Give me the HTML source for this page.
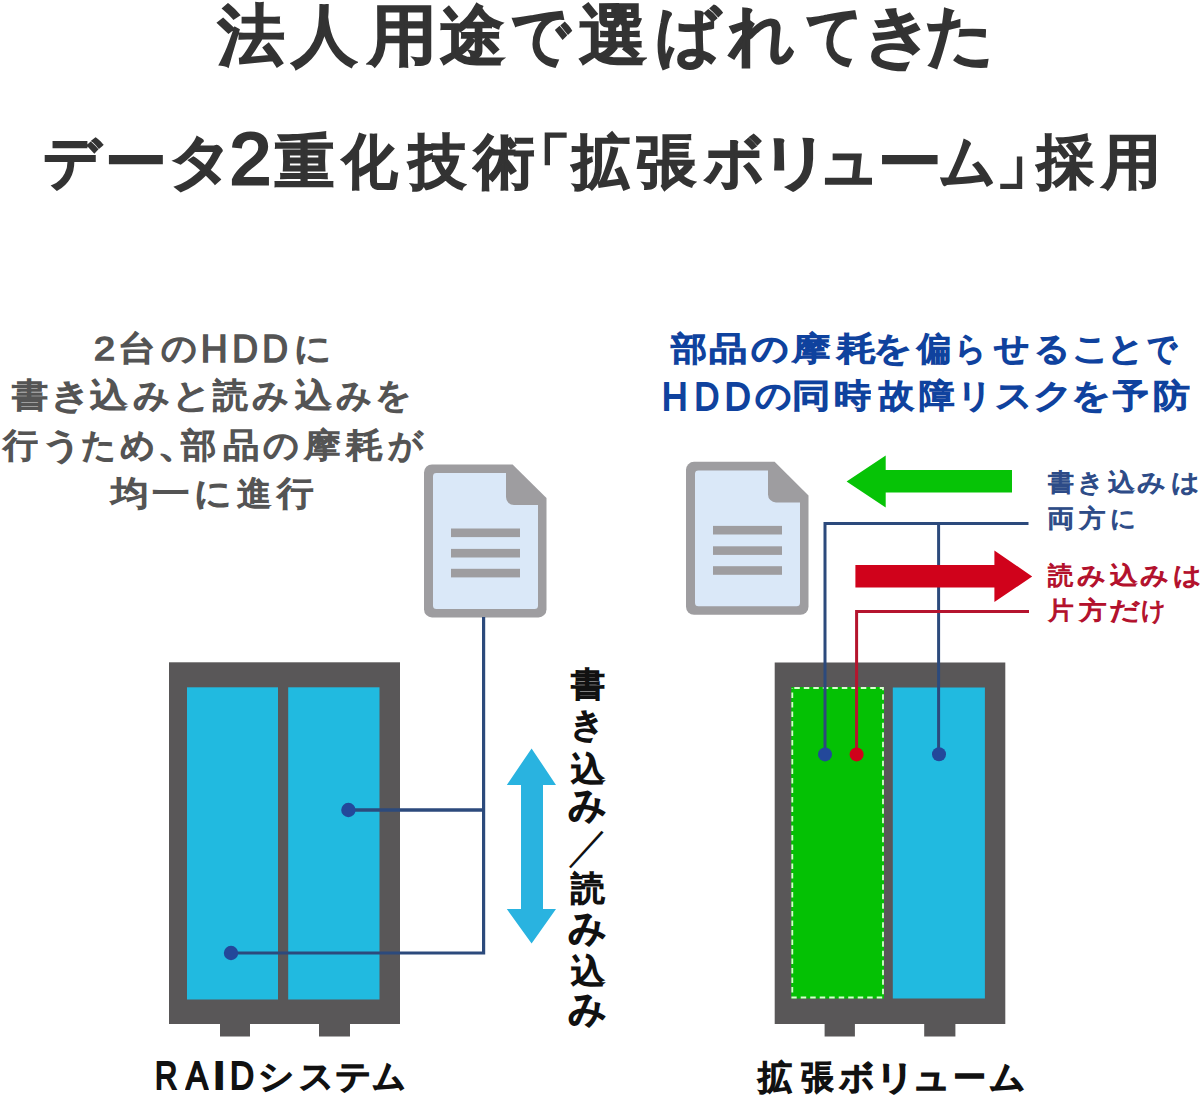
<!DOCTYPE html>
<html><head><meta charset="utf-8">
<style>
html,body{margin:0;padding:0;background:#fff;}
body{width:1200px;height:1097px;position:relative;overflow:hidden;font-family:"Liberation Sans",sans-serif;}
.t{position:absolute;white-space:nowrap;font-weight:normal;line-height:1;}
svg{position:absolute;left:0;top:0;}
</style></head><body>
<svg width="1200" height="1097" viewBox="0 0 1200 1097">
<defs>
<g id="doc">
<path d="M8,0 H88.6 L122.5,33.6 V145 a8,8 0 0 1 -8,8 H8 a8,8 0 0 1 -8,-8 V8 a8,8 0 0 1 8,-8 Z" fill="#9e9da0"/>
<path d="M12.4,8.6 H82 V32.6 a8,8 0 0 0 8,8 H114 V141 a3.5,3.5 0 0 1 -3.5,3.5 H12.5 a3.5,3.5 0 0 1 -3.5,-3.5 V12 a3.4,3.4 0 0 1 3.4,-3.4 Z" fill="#dae8f8"/>
<rect x="27" y="64.1" width="69" height="8.6" fill="#9e9da0"/>
<rect x="27" y="84.5" width="69" height="8.6" fill="#9e9da0"/>
<rect x="27" y="104.4" width="69" height="8.6" fill="#9e9da0"/>
</g>
</defs>
<use href="#doc" x="424" y="464.4"/>
<use href="#doc" x="686" y="461.8"/>
<rect x="169" y="662.3" width="231" height="361.7" fill="#595758"/>
<rect x="220" y="1023" width="30" height="13.5" fill="#595758"/>
<rect x="319" y="1023" width="31" height="13.5" fill="#595758"/>
<rect x="187" y="687.3" width="91" height="312.2" fill="#21bae0"/>
<rect x="288.2" y="687.3" width="91.3" height="312.2" fill="#21bae0"/>
<polyline points="483.6,617 483.6,953 231,953" fill="none" stroke="#2c4a7c" stroke-width="3.2"/>
<line x1="348" y1="810" x2="483.6" y2="810" stroke="#2c4a7c" stroke-width="3.4"/>
<circle cx="231" cy="953" r="7.2" fill="#23489a"/>
<circle cx="348.4" cy="810" r="7.2" fill="#23489a"/>
<path d="M531.6,748.4 L556,785 H543 V909 H556 L531.6,943.5 L506.8,909 H521 V785 H506.8 Z" fill="#29b3e0"/>
<rect x="774.7" y="662.5" width="230.6" height="361.5" fill="#595758"/>
<rect x="824.6" y="1023" width="30.3" height="13.5" fill="#595758"/>
<rect x="924.2" y="1023" width="31.2" height="13.5" fill="#595758"/>
<rect x="791.3" y="687" width="92.7" height="311.5" fill="#04c104"/>
<rect x="792.3" y="688" width="90.7" height="309.5" fill="none" stroke="#d8ffd0" stroke-width="1.8" stroke-dasharray="5.5 4" stroke-dashoffset="-2"/>
<rect x="892.8" y="687.5" width="92.1" height="311" fill="#21bae0"/>
<polyline points="825,754 825,523.4 1028.5,523.4" fill="none" stroke="#2c4a7c" stroke-width="3"/>
<line x1="938.6" y1="523.4" x2="938.6" y2="754" stroke="#2c4a7c" stroke-width="3"/>
<polyline points="856.6,754 856.6,611.5 1029,611.5" fill="none" stroke="#b5142e" stroke-width="3"/>
<circle cx="825" cy="754.4" r="7" fill="#23489a"/>
<circle cx="856.6" cy="754.4" r="7" fill="#d0021b"/>
<circle cx="939" cy="754.2" r="7" fill="#23489a"/>
<path d="M846.6,481.5 L885.7,455.4 V470.1 H1012 V492.5 H885.7 V507.4 Z" fill="#06c306"/>
<path d="M1032.2,576.5 L994.4,550.4 V565.1 H855.4 V587.5 H994.4 V602 Z" fill="#d0021b"/>
</svg>

<div class="t" id="title1" style="left:0px;top:1.94px;font-size:66.00px;color:#333333;-webkit-text-stroke:3.4px #333333;"><span style="position:absolute;left:218.00px;top:0;transform:scaleX(1.009);transform-origin:32.0px 50%">法</span><span style="position:absolute;left:291.65px;top:0;transform:scaleX(0.990);transform-origin:32.5px 50%">人</span><span style="position:absolute;left:368.50px;top:0;transform:scaleX(1.048);transform-origin:29.0px 50%">用</span><span style="position:absolute;left:439.50px;top:0;transform:scaleX(0.985);transform-origin:33.0px 50%">途</span><span style="position:absolute;left:506.70px;top:0;transform:scaleX(0.882);transform-origin:35.0px 50%">で</span><span style="position:absolute;left:580.00px;top:0;transform:scaleX(1.030);transform-origin:33.0px 50%">選</span><span style="position:absolute;left:654.05px;top:0;transform:scaleX(0.977);transform-origin:36.0px 50%">ば</span><span style="position:absolute;left:727.85px;top:0">れ</span><span style="position:absolute;left:801.15px;top:0;transform:scaleX(0.849);transform-origin:30.5px 50%">て</span><span style="position:absolute;left:863.75px;top:0;transform:scaleX(1.078);transform-origin:31.5px 50%">き</span><span style="position:absolute;left:925.60px;top:0;transform:scaleX(1.034);transform-origin:31.5px 50%">た</span></div>
<div class="t" id="title2" style="left:0px;top:132.85px;font-size:59.00px;color:#333333;-webkit-text-stroke:3.1px #333333;"><span style="position:absolute;left:41.65px;top:0;transform:scaleX(0.956);transform-origin:32.5px 50%">デ</span><span style="position:absolute;left:105.50px;top:0;transform:scaleX(1.047);transform-origin:29.5px 50%">ー</span><span style="position:absolute;left:169.70px;top:0;transform:scaleX(1.087);transform-origin:27.0px 50%">タ</span><span style="position:absolute;left:230.00px;top:0;transform:scaleX(1.017);transform-origin:20.0px 50%"><span style="font-size:1.24em;line-height:0;position:relative;top:2.5px">2</span></span><span style="position:absolute;left:275.15px;top:0;transform:scaleX(1.005);transform-origin:29.0px 50%">重</span><span style="position:absolute;left:340.15px;top:0;transform:scaleX(0.940);transform-origin:29.0px 50%">化</span><span style="position:absolute;left:407.70px;top:0;transform:scaleX(0.968);transform-origin:29.0px 50%">技</span><span style="position:absolute;left:474.50px;top:0;transform:scaleX(1.027);transform-origin:28.0px 50%">術</span><span style="position:absolute;left:511.35px;top:0;transform:scaleX(1.033);transform-origin:44.5px 50%">「</span><span style="position:absolute;left:571.50px;top:0;transform:scaleX(0.984);transform-origin:28.5px 50%">拡</span><span style="position:absolute;left:637.20px;top:0;transform:scaleX(1.017);transform-origin:29.5px 50%">張</span><span style="position:absolute;left:703.50px;top:0;transform:scaleX(1.007);transform-origin:29.0px 50%">ボ</span><span style="position:absolute;left:764.80px;top:0;transform:scaleX(1.212);transform-origin:28.5px 50%">リ</span><span style="position:absolute;left:818.85px;top:0;transform:scaleX(1.038);transform-origin:29.5px 50%">ュ</span><span style="position:absolute;left:879.70px;top:0;transform:scaleX(1.078);transform-origin:29.5px 50%">ー</span><span style="position:absolute;left:937.65px;top:0;transform:scaleX(0.952);transform-origin:29.0px 50%">ム</span><span style="position:absolute;left:996.35px;top:0;transform:scaleX(1.033);transform-origin:14.5px 50%">」</span><span style="position:absolute;left:1035.65px;top:0;transform:scaleX(0.956);transform-origin:28.5px 50%">採</span><span style="position:absolute;left:1102.00px;top:0">用</span></div>
<div class="t" id="l1" style="left:0px;top:331.44px;font-size:34.00px;color:#545454;-webkit-text-stroke:1.6px #545454;"><span style="position:absolute;left:95.10px;top:0;transform:scaleX(1.106);transform-origin:9.5px 50%">2</span><span style="position:absolute;left:119.90px;top:0;transform:scaleX(1.114);transform-origin:17.0px 50%">台</span><span style="position:absolute;left:161.55px;top:0;transform:scaleX(1.041);transform-origin:17.0px 50%">の</span><span style="position:absolute;left:199.95px;top:0;transform:scaleX(0.952);transform-origin:14.5px 50%"><span style="font-size:1.15em;line-height:0;position:relative;top:1.5px">H</span></span><span style="position:absolute;left:230.75px;top:0;transform:scaleX(0.912);transform-origin:15.0px 50%"><span style="font-size:1.15em;line-height:0;position:relative;top:1.5px">D</span></span><span style="position:absolute;left:260.95px;top:0;transform:scaleX(0.912);transform-origin:15.0px 50%"><span style="font-size:1.15em;line-height:0;position:relative;top:1.5px">D</span></span><span style="position:absolute;left:295.40px;top:0;transform:scaleX(1.079);transform-origin:17.0px 50%">に</span></div>
<div class="t" id="l2" style="left:0px;top:378.03px;font-size:34.00px;color:#545454;-webkit-text-stroke:1.6px #545454;"><span style="position:absolute;left:13.30px;top:0;transform:scaleX(1.061);transform-origin:16.5px 50%">書</span><span style="position:absolute;left:53.15px;top:0;transform:scaleX(1.195);transform-origin:16.0px 50%">き</span><span style="position:absolute;left:92.00px;top:0;transform:scaleX(1.115);transform-origin:16.5px 50%">込</span><span style="position:absolute;left:133.95px;top:0;transform:scaleX(1.066);transform-origin:17.0px 50%">み</span><span style="position:absolute;left:174.25px;top:0;transform:scaleX(1.143);transform-origin:16.5px 50%">と</span><span style="position:absolute;left:212.80px;top:0;transform:scaleX(1.029);transform-origin:17.0px 50%">読</span><span style="position:absolute;left:253.45px;top:0;transform:scaleX(1.066);transform-origin:17.0px 50%">み</span><span style="position:absolute;left:295.95px;top:0;transform:scaleX(1.088);transform-origin:16.5px 50%">込</span><span style="position:absolute;left:337.00px;top:0;transform:scaleX(1.038);transform-origin:17.0px 50%">み</span><span style="position:absolute;left:376.25px;top:0;transform:scaleX(1.052);transform-origin:17.5px 50%">を</span></div>
<div class="t" id="l3" style="left:0px;top:427.59px;font-size:34.00px;color:#545454;-webkit-text-stroke:1.6px #545454;"><span style="position:absolute;left:3.10px;top:0;transform:scaleX(1.029);transform-origin:17.0px 50%">行</span><span style="position:absolute;left:43.60px;top:0;transform:scaleX(1.210);transform-origin:15.5px 50%">う</span><span style="position:absolute;left:80.70px;top:0;transform:scaleX(1.020);transform-origin:16.0px 50%">た</span><span style="position:absolute;left:120.05px;top:0;transform:scaleX(1.016);transform-origin:16.5px 50%">め</span><span style="position:absolute;left:158.80px;top:0;transform:scaleX(1.300);transform-origin:7.0px 50%">、</span><span style="position:absolute;left:181.95px;top:0;transform:scaleX(1.039);transform-origin:16.5px 50%">部</span><span style="position:absolute;left:224.15px;top:0;transform:scaleX(1.074);transform-origin:16.5px 50%">品</span><span style="position:absolute;left:264.25px;top:0;transform:scaleX(1.041);transform-origin:17.0px 50%">の</span><span style="position:absolute;left:305.40px;top:0;transform:scaleX(1.073);transform-origin:16.5px 50%">摩</span><span style="position:absolute;left:347.55px;top:0;transform:scaleX(1.103);transform-origin:16.0px 50%">耗</span><span style="position:absolute;left:387.70px;top:0;transform:scaleX(1.011);transform-origin:17.5px 50%">が</span></div>
<div class="t" id="l4" style="left:0px;top:475.57px;font-size:34.00px;color:#545454;-webkit-text-stroke:1.6px #545454;"><span style="position:absolute;left:113.25px;top:0;transform:scaleX(1.106);transform-origin:15.5px 50%">均</span><span style="position:absolute;left:154.40px;top:0;transform:scaleX(1.106);transform-origin:17.0px 50%">一</span><span style="position:absolute;left:196.10px;top:0;transform:scaleX(1.093);transform-origin:17.0px 50%">に</span><span style="position:absolute;left:237.30px;top:0;transform:scaleX(1.018);transform-origin:17.0px 50%">進</span><span style="position:absolute;left:277.55px;top:0;transform:scaleX(1.074);transform-origin:17.0px 50%">行</span></div>
<div class="t" id="r1" style="left:0px;top:331.50px;font-size:33.00px;color:#0f429e;-webkit-text-stroke:1.8px #0f429e;"><span style="position:absolute;left:671.55px;top:0;transform:scaleX(1.091);transform-origin:16.0px 50%">部</span><span style="position:absolute;left:712.05px;top:0;transform:scaleX(1.163);transform-origin:16.0px 50%">品</span><span style="position:absolute;left:753.20px;top:0;transform:scaleX(1.123);transform-origin:16.5px 50%">の</span><span style="position:absolute;left:795.40px;top:0;transform:scaleX(1.158);transform-origin:16.5px 50%">摩</span><span style="position:absolute;left:839.70px;top:0;transform:scaleX(1.194);transform-origin:15.5px 50%">耗</span><span style="position:absolute;left:876.45px;top:0;transform:scaleX(1.168);transform-origin:17.0px 50%">を</span><span style="position:absolute;left:917.25px;top:0;transform:scaleX(1.027);transform-origin:15.5px 50%">偏</span><span style="position:absolute;left:954.25px;top:0;transform:scaleX(0.921);transform-origin:17.0px 50%">ら</span><span style="position:absolute;left:994.90px;top:0;transform:scaleX(1.056);transform-origin:16.0px 50%">せ</span><span style="position:absolute;left:1035.25px;top:0;transform:scaleX(1.078);transform-origin:16.5px 50%">る</span><span style="position:absolute;left:1074.20px;top:0;transform:scaleX(1.120);transform-origin:15.5px 50%">こ</span><span style="position:absolute;left:1109.25px;top:0;transform:scaleX(1.114);transform-origin:16.0px 50%">と</span><span style="position:absolute;left:1145.15px;top:0;transform:scaleX(0.891);transform-origin:18.0px 50%">で</span></div>
<div class="t" id="r2" style="left:0px;top:379.28px;font-size:33.00px;color:#0f429e;-webkit-text-stroke:1.8px #0f429e;"><span style="position:absolute;left:661.20px;top:0;transform:scaleX(0.930);transform-origin:13.5px 50%"><span style="font-size:1.15em;line-height:0;position:relative;top:2.5px">H</span></span><span style="position:absolute;left:693.35px;top:0;transform:scaleX(0.900);transform-origin:14.5px 50%"><span style="font-size:1.15em;line-height:0;position:relative;top:2.5px">D</span></span><span style="position:absolute;left:724.30px;top:0;transform:scaleX(0.944);transform-origin:14.5px 50%"><span style="font-size:1.15em;line-height:0;position:relative;top:2.5px">D</span></span><span style="position:absolute;left:755.50px;top:0;transform:scaleX(1.090);transform-origin:16.5px 50%">の</span><span style="position:absolute;left:794.80px;top:0;transform:scaleX(1.164);transform-origin:16.0px 50%">同</span><span style="position:absolute;left:836.00px;top:0;transform:scaleX(1.125);transform-origin:17.0px 50%">時</span><span style="position:absolute;left:879.80px;top:0;transform:scaleX(1.059);transform-origin:16.0px 50%">故</span><span style="position:absolute;left:919.70px;top:0;transform:scaleX(1.075);transform-origin:17.0px 50%">障</span><span style="position:absolute;left:958.10px;top:0;transform:scaleX(1.056);transform-origin:16.0px 50%">リ</span><span style="position:absolute;left:997.25px;top:0;transform:scaleX(1.107);transform-origin:15.5px 50%">ス</span><span style="position:absolute;left:1036.35px;top:0;transform:scaleX(1.188);transform-origin:15.0px 50%">ク</span><span style="position:absolute;left:1073.50px;top:0;transform:scaleX(1.186);transform-origin:17.0px 50%">を</span><span style="position:absolute;left:1114.25px;top:0;transform:scaleX(1.078);transform-origin:16.0px 50%">予</span><span style="position:absolute;left:1155.45px;top:0;transform:scaleX(1.116);transform-origin:17.0px 50%">防</span></div>
<div class="t" id="w1" style="left:0px;top:470.07px;font-size:25.00px;color:#2d4b87;-webkit-text-stroke:1.1px #2d4b87;"><span style="position:absolute;left:1047.80px;top:0;transform:scaleX(1.040);transform-origin:12.5px 50%">書</span><span style="position:absolute;left:1078.20px;top:0;transform:scaleX(1.059);transform-origin:11.5px 50%">き</span><span style="position:absolute;left:1109.00px;top:0;transform:scaleX(1.083);transform-origin:12.0px 50%">込</span><span style="position:absolute;left:1139.20px;top:0;transform:scaleX(1.130);transform-origin:12.5px 50%">み</span><span style="position:absolute;left:1171.65px;top:0;transform:scaleX(1.123);transform-origin:12.0px 50%">は</span></div>
<div class="t" id="w2" style="left:0px;top:505.61px;font-size:25.00px;color:#2d4b87;-webkit-text-stroke:1.1px #2d4b87;"><span style="position:absolute;left:1048.15px;top:0;transform:scaleX(1.100);transform-origin:12.5px 50%">両</span><span style="position:absolute;left:1079.50px;top:0;transform:scaleX(1.064);transform-origin:12.5px 50%">方</span><span style="position:absolute;left:1110.15px;top:0;transform:scaleX(1.014);transform-origin:12.5px 50%">に</span></div>
<div class="t" id="rd1" style="left:0px;top:562.54px;font-size:25.00px;color:#b3102c;-webkit-text-stroke:1.1px #b3102c;"><span style="position:absolute;left:1048.15px;top:0;transform:scaleX(1.012);transform-origin:12.5px 50%">読</span><span style="position:absolute;left:1079.20px;top:0;transform:scaleX(1.130);transform-origin:12.5px 50%">み</span><span style="position:absolute;left:1111.35px;top:0;transform:scaleX(1.113);transform-origin:12.0px 50%">込</span><span style="position:absolute;left:1141.80px;top:0;transform:scaleX(1.130);transform-origin:12.5px 50%">み</span><span style="position:absolute;left:1173.65px;top:0;transform:scaleX(1.123);transform-origin:12.0px 50%">は</span></div>
<div class="t" id="rd2" style="left:0px;top:598.07px;font-size:25.00px;color:#b3102c;-webkit-text-stroke:1.1px #b3102c;"><span style="position:absolute;left:1048.35px;top:0;transform:scaleX(1.029);transform-origin:12.0px 50%">片</span><span style="position:absolute;left:1080.00px;top:0;transform:scaleX(1.108);transform-origin:12.0px 50%">方</span><span style="position:absolute;left:1111.65px;top:0;transform:scaleX(1.221);transform-origin:13.0px 50%">だ</span><span style="position:absolute;left:1141.35px;top:0;transform:scaleX(0.968);transform-origin:12.0px 50%">け</span></div>
<div class="t" id="vt" style="left:570.00px;top:664.00px;font-size:34.13px;letter-spacing:0.00px;color:#111111;-webkit-text-stroke:1.8px #111111;line-height:40.74px;text-align:center;"><span style="position:relative;top:0px">書</span><br><span style="position:relative;top:-0.5px">き</span><br><span style="position:relative;top:4px">込</span><br><span style="position:relative;top:-1.5px;display:inline-block;transform:scale(1.1)">み</span><br><span style="position:relative;top:-0.5px;display:inline-block;transform:scale(1.25);font-weight:normal;-webkit-text-stroke:0">／</span><br><span style="position:relative;top:0.8px">読</span><br><span style="position:relative;top:-0.2px;display:inline-block;transform:scale(1.1)">み</span><br><span style="position:relative;top:1.4px">込</span><br><span style="position:relative;top:-1.1px;display:inline-block;transform:scale(1.1)">み</span></div>
<div class="t" id="lb1" style="left:0px;top:1059.96px;font-size:33.50px;color:#111111;-webkit-text-stroke:2.0px #111111;"><span style="position:absolute;left:152.35px;top:0;transform:scaleX(0.800);transform-origin:15.0px 50%"><span style="font-size:1.15em;line-height:0;position:relative;top:1.5px">R</span></span><span style="position:absolute;left:183.60px;top:0;transform:scaleX(0.850);transform-origin:13.0px 50%"><span style="font-size:1.15em;line-height:0;position:relative;top:1.5px">A</span></span><span style="position:absolute;left:213.85px;top:0;transform:scaleX(1.300);transform-origin:5.5px 50%"><span style="font-size:1.15em;line-height:0;position:relative;top:1.5px">I</span></span><span style="position:absolute;left:227.60px;top:0;transform:scaleX(0.864);transform-origin:14.5px 50%"><span style="font-size:1.15em;line-height:0;position:relative;top:1.5px">D</span></span><span style="position:absolute;left:259.20px;top:0;transform:scaleX(1.047);transform-origin:17.0px 50%">シ</span><span style="position:absolute;left:298.65px;top:0;transform:scaleX(1.010);transform-origin:16.0px 50%">ス</span><span style="position:absolute;left:336.10px;top:0;transform:scaleX(1.052);transform-origin:16.5px 50%">テ</span><span style="position:absolute;left:371.90px;top:0;transform:scaleX(0.981);transform-origin:17.0px 50%">ム</span></div>
<div class="t" id="lb2" style="left:0px;top:1060.69px;font-size:33.50px;color:#111111;-webkit-text-stroke:2.0px #111111;"><span style="position:absolute;left:758.00px;top:0">拡</span><span style="position:absolute;left:799.50px;top:0;transform:scaleX(0.959);transform-origin:17.0px 50%">張</span><span style="position:absolute;left:839.10px;top:0;transform:scaleX(1.024);transform-origin:16.5px 50%">ボ</span><span style="position:absolute;left:877.60px;top:0;transform:scaleX(1.168);transform-origin:16.5px 50%">リ</span><span style="position:absolute;left:914.40px;top:0;transform:scaleX(1.123);transform-origin:17.0px 50%">ュ</span><span style="position:absolute;left:952.90px;top:0;transform:scaleX(0.973);transform-origin:17.0px 50%">ー</span><span style="position:absolute;left:990.25px;top:0;transform:scaleX(1.059);transform-origin:17.0px 50%">ム</span></div>
</body></html>
